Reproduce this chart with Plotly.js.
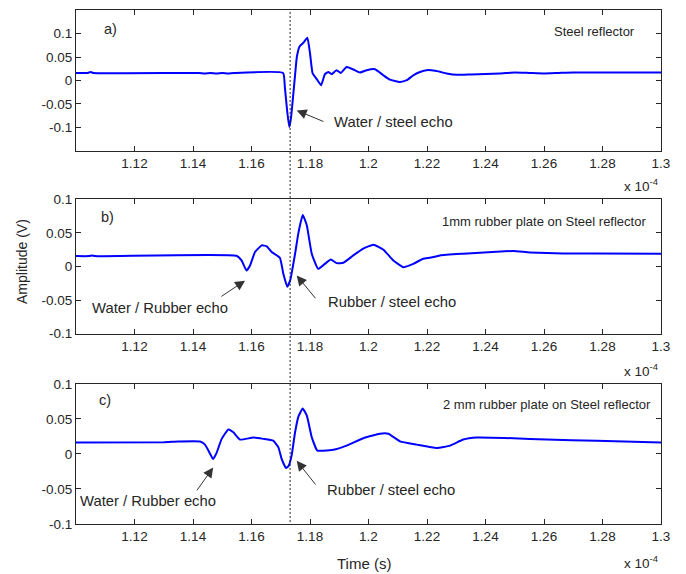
<!DOCTYPE html>
<html>
<head>
<meta charset="utf-8">
<script src="https://cdn.plot.ly/plotly-3.0.1.min.js"></script>
<style>html,body{margin:0;padding:0;background:#fff;}#chart{width:686px;height:574px;}</style>
</head>
<body>
<div id="chart"></div>
<script>
// Time in units of 1e-4 s
var tA = [1.100, 1.104, 1.105, 1.106, 1.142, 1.144, 1.146, 1.148, 1.150, 1.152, 1.154, 1.1708, 1.1714, 1.1722, 1.1729, 1.1735, 1.1741, 1.1748, 1.1755, 1.1764, 1.1777, 1.1791, 1.1800, 1.1809, 1.1822, 1.1838, 1.1851, 1.1863, 1.1874, 1.1891, 1.1905, 1.1925, 1.1948, 1.1971, 1.1994, 1.2022, 1.2051, 1.2073, 1.2108, 1.2131, 1.2153, 1.2176, 1.2199, 1.2233, 1.2267, 1.2302, 1.2350, 1.2400, 1.2450, 1.2500, 1.2550, 1.2600, 1.2650, 1.2700, 1.3000];
var vA = [0.016, 0.016, 0.018, 0.016, 0.016, 0.015, 0.016, 0.015, 0.016, 0.015, 0.016, 0.016, -0.014, -0.065, -0.099, -0.080, -0.042, 0.005, 0.050, 0.072, 0.080, 0.091, 0.058, 0.015, 0.004, -0.010, 0.0135, 0.018, 0.0135, 0.022, 0.016, 0.0285, 0.0235, 0.017, 0.022, 0.024, 0.011, 0.002, -0.003, 0.0006, 0.011, 0.018, 0.022, 0.020, 0.015, 0.012, 0.013, 0.014, 0.015, 0.017, 0.016, 0.015, 0.016, 0.017, 0.017];

var tB = [1.100, 1.1045, 1.1055, 1.1065, 1.1549, 1.1566, 1.1583, 1.1595, 1.1612, 1.1635, 1.1652, 1.1669, 1.1697, 1.1709, 1.1722, 1.1732, 1.1749, 1.1760, 1.1775, 1.1789, 1.1806, 1.1828, 1.1851, 1.1871, 1.1891, 1.1914, 1.1948, 1.1982, 1.2017, 1.2051, 1.2085, 1.2119, 1.2153, 1.2187, 1.2210, 1.2244, 1.2324, 1.2438, 1.2495, 1.2552, 1.2666, 1.2780, 1.3000];
var vB = [0.0155, 0.0155, 0.0165, 0.0155, 0.0160, 0.009, -0.006, 0.0015, 0.0215, 0.0315, 0.030, 0.0215, 0.013, -0.011, -0.030, -0.021, 0.019, 0.049, 0.0765, 0.0615, 0.019, -0.0035, 0.004, 0.0105, 0.005, 0.0055, 0.0165, 0.0265, 0.0325, 0.025, 0.009, -0.001, 0.004, 0.0115, 0.013, 0.0165, 0.019, 0.022, 0.023, 0.021, 0.0195, 0.0195, 0.019];

var tC = [1.100, 1.130, 1.135, 1.1424, 1.1441, 1.1456, 1.1469, 1.1481, 1.1498, 1.1521, 1.1538, 1.1561, 1.1606, 1.1640, 1.1674, 1.1692, 1.1703, 1.1718, 1.1727, 1.1737, 1.1749, 1.1760, 1.1775, 1.1789, 1.1806, 1.1825, 1.1845, 1.1880, 1.1925, 1.1982, 1.2039, 1.2068, 1.2108, 1.2165, 1.2233, 1.2279, 1.2324, 1.2370, 1.2495, 1.2609, 1.2780, 1.3000];
var vC = [0.0165, 0.0168, 0.0178, 0.0178, 0.0134, 0.0023, -0.0072, 0.002, 0.0216, 0.035, 0.031, 0.0206, 0.0235, 0.0216, 0.019, 0.0095, -0.007, -0.020, -0.017, -0.0025, 0.031, 0.053, 0.065, 0.055, 0.024, 0.0048, 0.0048, 0.006, 0.012, 0.0225, 0.029, 0.029, 0.018, 0.0134, 0.0087, 0.012, 0.0206, 0.0235, 0.0225, 0.0206, 0.0188, 0.0163];

var xTickVals = [1.12, 1.14, 1.16, 1.18, 1.20, 1.22, 1.24, 1.26, 1.28, 1.30];
var xTickText = ["1.12", "1.14", "1.16", "1.18", "1.2", "1.22", "1.24", "1.26", "1.28", "1.3"];
var yTickVals = [-0.1, -0.05, 0, 0.05, 0.1];
var yTickText = ["-0.1", "-0.05", "0", "0.05", "0.1"];
var echoTime = 1.1732;

var FONT = "Arial, 'Liberation Sans', sans-serif";
var TXT = "#262626";

function tr(x, y, ax) {
  return {x: x, y: y, xaxis: 'x' + ax, yaxis: 'y' + ax, type: 'scatter', mode: 'lines',
    line: {color: '#0000ff', width: 2, shape: 'spline', smoothing: 0.4}, hoverinfo: 'skip', showlegend: false};
}
var data = [tr(tA, vA, ''), tr(tB, vB, '2'), tr(tC, vC, '3')];

function xax(anchor) {
  return {range: [1.10, 1.30], tickvals: xTickVals, ticktext: xTickText, ticks: 'inside', ticklen: 5,
    tickcolor: TXT, showline: true, linecolor: TXT, linewidth: 1, mirror: 'ticks', showgrid: false,
    zeroline: false, anchor: anchor, tickfont: {family: FONT, size: 13.5, color: TXT}};
}
function yax(dom, rng, anchor) {
  return {domain: dom, range: rng, tickvals: yTickVals, ticktext: yTickText, ticks: 'inside', ticklen: 5,
    tickcolor: TXT, showline: true, linecolor: TXT, linewidth: 1, mirror: 'ticks', showgrid: false,
    zeroline: false, anchor: anchor, tickfont: {family: FONT, size: 13.5, color: TXT}};
}

function txt(x, y, s, ax, xanchor, size) {
  return {x: x, y: y, xref: 'x' + ax, yref: 'y' + ax, text: s, showarrow: false, xanchor: xanchor,
    yanchor: 'middle', font: {family: FONT, size: size, color: TXT}};
}
function arr(x, y, ax0, ay0, a) {
  return {x: x, y: y, ax: ax0, ay: ay0, xref: 'x' + a, yref: 'y' + a, axref: 'x' + a, ayref: 'y' + a,
    text: '', showarrow: true, arrowhead: 2, arrowsize: 2, arrowwidth: 1, arrowcolor: '#333', standoff: 0};
}
function paperTxt(x, y, s, xanchor, size, angle) {
  return {x: x, y: y, xref: 'paper', yref: 'paper', text: s, showarrow: false, xanchor: xanchor,
    yanchor: 'middle', textangle: angle || 0, font: {family: FONT, size: size, color: TXT}};
}

var annotations = [
  txt(1.1089, 0.110, 'a)', '', 'left', 14.5),
  txt(1.2918, 0.1034, 'Steel reflector', '', 'right', 13),
  arr(1.17545, -0.0636, 1.1851, -0.0886, ''),
  txt(1.1875, -0.0886, 'Water / steel echo', '', 'left', 14.8),

  txt(1.1079, 0.074, 'b)', '2', 'left', 14.5),
  txt(1.2956, 0.0664, '1mm rubber plate on Steel reflector', '2', 'right', 13),
  arr(1.1578, -0.021, 1.1492, -0.046, '2'),
  txt(1.1287, -0.061, 'Water / Rubber echo', '2', 'center', 14.8),
  arr(1.17545, -0.0135, 1.1823, -0.0495, '2'),
  txt(1.1853, -0.0535, 'Rubber / steel echo', '2', 'left', 14.8),

  txt(1.1072, 0.077, 'c)', '3', 'left', 14.5),
  txt(1.2972, 0.0711, '2 mm rubber plate on Steel reflector', '3', 'right', 13),
  arr(1.1469, -0.0193, 1.1410, -0.054, '3'),
  txt(1.1247, -0.0674, 'Water / Rubber echo', '3', 'center', 14.8),
  arr(1.17545, -0.0097, 1.1823, -0.0457, '3'),
  txt(1.1851, -0.0515, 'Rubber / steel echo', '3', 'left', 14.8),

  paperTxt(-0.0923, 0.5097, 'Amplitude (V)', 'center', 14, -90),
  paperTxt(0.4923, -0.0759, 'Time (s)', 'center', 15),
  paperTxt(0.998, 0.6595, 'x 10<sup>-4</sup>', 'right', 13.5),
  paperTxt(0.998, 0.2996, 'x 10<sup>-4</sup>', 'right', 13.5),
  paperTxt(0.998, -0.0739, 'x 10<sup>-4</sup>', 'right', 13.5)
];

var layout = {
  width: 686, height: 574,
  margin: {l: 76, r: 25, t: 10, b: 50},
  paper_bgcolor: '#fff', plot_bgcolor: '#fff',
  xaxis: xax('y'), yaxis: yax([0.7257, 1], [-0.15, 0.15], 'x'),
  xaxis2: xax('y2'), yaxis2: yax([0.3702, 0.6317], [-0.1, 0.1], 'x2'),
  xaxis3: xax('y3'), yaxis3: yax([0, 0.2724], [-0.1, 0.1], 'x3'),
  annotations: annotations,
  shapes: [{type: 'line', xref: 'x', yref: 'paper', x0: echoTime, x1: echoTime, y0: 0.004, y1: 1,
    line: {color: '#222', width: 1, dash: '2px,2px'}}]
};

Plotly.newPlot('chart', data, layout, {displayModeBar: false, staticPlot: true});
</script>
</body>
</html>
